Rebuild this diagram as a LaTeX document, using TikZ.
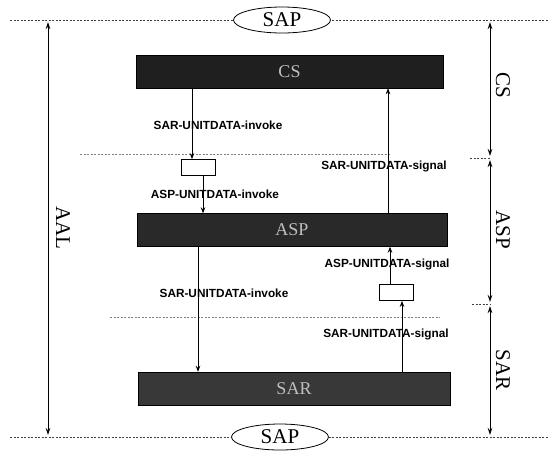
\documentclass[tikz,border=0pt]{standalone}
\usepackage{fontspec}
\setmainfont{Liberation Serif}
\newfontfamily\lblfont{Liberation Sans}
\usetikzlibrary{shapes.geometric,arrows.meta}
\begin{document}
\begin{tikzpicture}[x=1pt,y=-1pt,
  bar/.style={draw=black, fill=black!88, minimum height=33pt, inner sep=0pt, font=\fontsize{18}{18}\selectfont, text=black!25},
  relay/.style={draw, line width=0.8pt, fill=white, minimum width=34pt, minimum height=16pt, inner sep=0pt},
  sap/.style={draw, line width=0.8pt, ellipse, fill=white, minimum width=97pt, minimum height=26pt, inner sep=0pt, font=\fontsize{21}{21}\selectfont},
  sig/.style={font=\lblfont\bfseries\fontsize{11.8}{12}\selectfont, inner sep=1pt},
  side/.style={font=\fontsize{21}{21}\selectfont, rotate=-90, inner sep=0pt},
  flow/.style={-{Stealth[length=6pt,width=4.5pt]}, line width=0.8pt},
  dim/.style={{Stealth[length=7pt,width=4.5pt]}-{Stealth[length=7pt,width=4.5pt]}, line width=0.9pt},
  sep/.style={dash pattern=on 2pt off 1.5pt, line width=0.5pt, black!75}
]
\useasboundingbox (0,0) rectangle (551,451);

% boundary lines with SAP
\coordinate (tl) at (10,20);
\coordinate (tr) at (548,20);
\coordinate (bl) at (10,437);
\coordinate (br) at (548,437);
\draw[sep] (tl) -- (tr);
\draw[sep] (bl) -- (br);
\node[sap] (saptop) at (282,20) {SAP};
\node[sap] (sapbot) at (280,437) {SAP};

% inner separators
\coordinate (s1a) at (80,154);
\coordinate (s1b) at (390,154);
\coordinate (s2a) at (110,317);
\coordinate (s2b) at (440,317);
\draw[sep, black!50] (s1a) -- (s1b);
\draw[sep, black!50] (s2a) -- (s2b);
\coordinate (t1a) at (470,158);
\coordinate (t1b) at (490,158);
\coordinate (t2a) at (472,304);
\coordinate (t2b) at (490,304);
\draw[sep] (t1a) -- (t1b);
\draw[sep] (t2a) -- (t2b);

% bars
\node[bar, minimum width=307pt] (cs)  at (289.5,71.5) {CS};
\node[bar, minimum width=310pt, fill=black!84] (asp) at (292,230) {ASP};
\node[bar, minimum width=312pt, fill=black!78] (sar) at (294,388.5) {SAR};

% relay boxes
\node[relay] (b1) at (198,167.5) {};
\node[relay] (b2) at (396,292.5) {};

% x positions of connectors
\coordinate (xa) at (192,0);
\coordinate (xb) at (203,0);
\coordinate (xc) at (198,0);
\coordinate (xd) at (402,0);
\coordinate (xe) at (390,0);
\coordinate (xf) at (388,0);

\draw[flow] (cs.south -| xa) -- (b1.north -| xa);
\draw[flow] (b1.south -| xb) -- (asp.north -| xb);
\draw[flow] (asp.south -| xc) -- (sar.north -| xc);
\draw[flow] (sar.north -| xd) -- (b2.south -| xd);
\draw[flow] (b2.north -| xe) -- (asp.south -| xe);
\draw[flow] (asp.north -| xf) -- (cs.south -| xf);

% labels
\node[sig] (l1) at (218,125) {SAR-UNITDATA-invoke};
\node[sig] (l2) at (215,194) {ASP-UNITDATA-invoke};
\node[sig] (l3) at (384,166) {SAR-UNITDATA-signal};
\node[sig] (l4) at (387,264) {ASP-UNITDATA-signal};
\node[sig] (l5) at (224,293) {SAR-UNITDATA-invoke};
\node[sig] (l6) at (386,334) {SAR-UNITDATA-signal};

% AAL dimension
\coordinate (aalt) at (48,22);
\coordinate (aalb) at (48,435);
\draw[dim] (aalt) -- (aalb);
\node[side] (aal) at (63,228) {AAL};

% right dimensions
\coordinate (r0) at (490,22);
\coordinate (r1) at (490,156);
\coordinate (r2) at (490,160);
\coordinate (r3) at (490,302);
\coordinate (r4) at (490,306);
\coordinate (r5) at (490,435);
\draw[dim] (r0) -- (r1);
\draw[dim] (r2) -- (r3);
\draw[dim] (r4) -- (r5);
\node[side] (lcs) at (503,85) {CS};
\node[side] (lasp) at (503,230) {ASP};
\node[side] (lsar) at (503,370) {SAR};
\end{tikzpicture}
\end{document}
